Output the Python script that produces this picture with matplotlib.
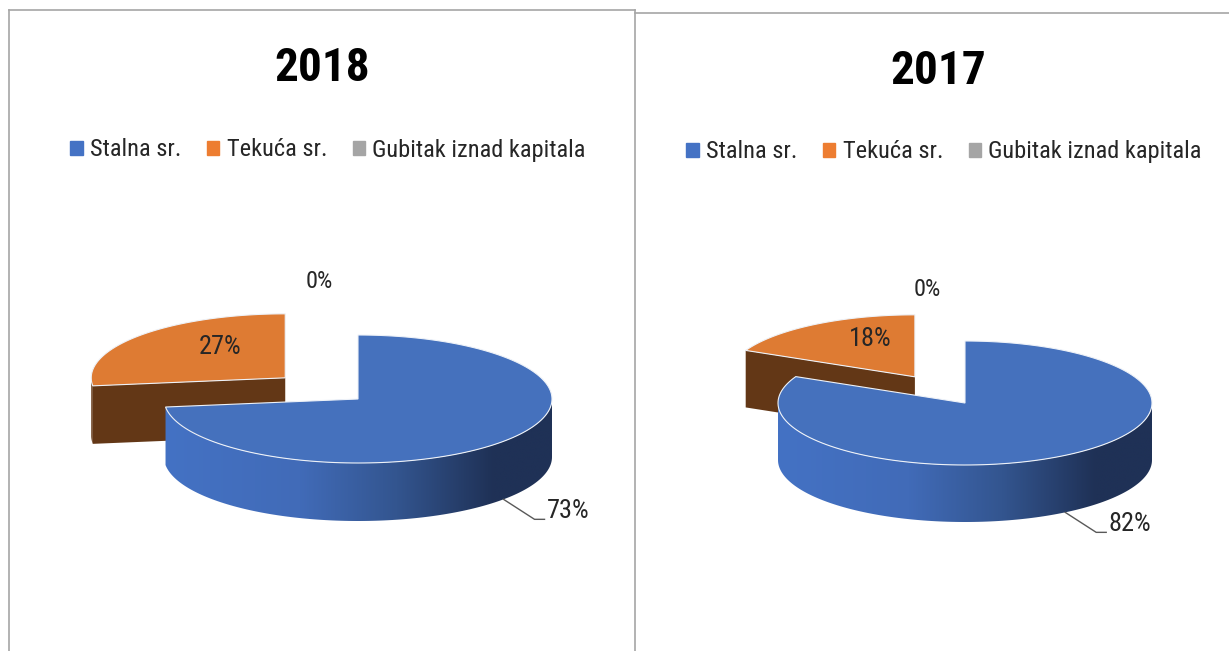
import numpy as np
import matplotlib
matplotlib.use('Agg')
import matplotlib.pyplot as plt
from matplotlib.patches import Polygon, Rectangle
from matplotlib.colors import LinearSegmentedColormap
from matplotlib import font_manager

# data
years = ['2018', '2017']
categories = ['Stalna sr.', 'Tekuća sr.', 'Gubitak iznad kapitala']
values_2018 = [73, 27, 0]
values_2017 = [82, 18, 0]

colors = ['#4472C4', '#ED7D31', '#A5A5A5']
top_colors = ['#4571BD', '#DE7B33', '#A5A5A5']
side_colors = ['#1F3156', '#633716', '#5A5A5A']
explode = [0, 0.5, 0]

# narrow font if there is one, otherwise Liberation Sans a bit smaller
names = {f.name for f in font_manager.fontManager.ttflist}
narrow = [n for n in ['Liberation Sans Narrow', 'Roboto Condensed', 'Open Sans Condensed'] if n in names]
if narrow:
    plt.rcParams['font.family'] = [narrow[0], 'DejaVu Sans']
    fs_title, fs_leg, fs_lab, fs_zero = 34, 17.6, 19, 17.5
else:
    plt.rcParams['font.family'] = ['Liberation Sans', 'DejaVu Sans']
    fs_title, fs_leg, fs_lab, fs_zero = 32, 16, 16.5, 15.5

W, H = 1229, 651
fig = plt.figure(figsize=(W / 100, H / 100), dpi=100)
ax = fig.add_axes([0, 0, 1, 1])
ax.axis('off')

wall_cmaps = [
    LinearSegmentedColormap.from_list('blue_wall', [(0, '#4472C4'), (0.35, '#416BB8'), (0.6, '#33558F'),
                                                    (0.85, '#1F3156'), (1, '#1F3156')]),
    LinearSegmentedColormap.from_list('orange_wall', ['#633716', '#633716']),
    LinearSegmentedColormap.from_list('gray_wall', ['#5A5A5A', '#5A5A5A']),
]
grad = np.linspace(0, 1, 256).reshape(1, -1)


def arc(cx, cy, rx, ry, a1, a2, n=150):
    t = np.radians(np.linspace(a1, a2, n))
    return np.column_stack([cx + rx * np.cos(t), cy - ry * np.sin(t)])


def draw_pie3d(values, cx, cy, rx, ry, depth):
    total = float(sum(values))
    start = 90.0
    slices = []
    for i, v in enumerate(values):
        sweep = 360.0 * v / total
        a1, a2 = start, start - sweep
        start = a2
        mid = np.radians((a1 + a2) / 2)
        ox = cx + explode[i] * rx * np.cos(mid)
        oy = cy - explode[i] * ry * np.sin(mid)
        slices.append((i, v, a1, a2, mid, ox, oy))

    z = 2
    for i, v, a1, a2, mid, ox, oy in sorted(slices, key=lambda s: -np.sin(s[4])):
        if v == 0:
            continue
        # cut faces
        for a, nrm in ((a1, a1 + 90), (a2, a2 - 90)):
            if np.sin(np.radians(nrm)) < -1e-6:
                ex = ox + rx * np.cos(np.radians(a))
                ey = oy - ry * np.sin(np.radians(a))
                ax.add_patch(Polygon([(ox, oy), (ex, ey), (ex, ey + depth), (ox, oy + depth)],
                                     closed=True, fc=side_colors[i], ec='none', zorder=z))
                z += 1
        # outer wall (front half only)
        for k in (-1, 0, 1):
            lo = max(a2, 180 + 360 * k)
            hi = min(a1, 360 + 360 * k)
            if hi > lo:
                top = arc(ox, oy, rx, ry, lo, hi)
                bot = top[::-1] + np.array([0, depth])
                wall = Polygon(np.vstack([top, bot]), closed=True, fc='none', ec='none', zorder=z)
                ax.add_patch(wall)
                im = ax.imshow(grad, cmap=wall_cmaps[i], aspect='auto', interpolation='bilinear',
                               extent=(ox - rx, ox + rx, oy + ry + depth, oy - ry), zorder=z)
                im.set_clip_path(wall)
                z += 1
        # top face
        pts = np.vstack([[ox, oy], arc(ox, oy, rx, ry, a2, a1), [ox, oy]])
        ax.add_patch(Polygon(pts, closed=True, fc=top_colors[i], ec='#EEF2F8', lw=0.8, zorder=z))
        z += 1

    # data labels
    for i, v, a1, a2, mid, ox, oy in slices:
        txt = '{:.0f}%'.format(100 * v / total)
        if v == 0:
            ax.text(ox - 0.2 * rx, oy - 1.83 * ry, txt, ha='center', va='center',
                    fontsize=fs_zero, color='#262626', zorder=50)
        elif v / total >= 0.5:
            sx = ox + rx * np.cos(mid)
            sy = oy - ry * np.sin(mid) + depth
            bx, by = sx + 31, sy + 20
            ax.plot([sx, bx, bx + 10], [sy, by, by], color='#595959', lw=1, zorder=50)
            ax.text(bx + 12, by - 8, txt, ha='left', va='center', fontsize=fs_lab,
                    color='#262626', zorder=50)
        else:
            ax.text(ox + 0.45 * rx * np.cos(mid), oy - 0.72 * ry * np.sin(mid), txt,
                    ha='center', va='center', fontsize=fs_lab, color='#262626', zorder=50)


draw_pie3d(values_2018, 358, 399, 194, 64, 58)
draw_pie3d(values_2017, 965, 403, 187, 62, 57)

# titles
ax.text(322, 68, years[0], ha='center', va='center', fontsize=fs_title, fontweight='bold', color='black')
ax.text(938, 71, years[1], ha='center', va='center', fontsize=fs_title, fontweight='bold', color='black')

# legends
handles = [Rectangle((0, 0), 1, 1, color=c) for c in colors]
for xc, yc in ((328, 150), (944, 152)):
    fig.legend(handles, categories, loc='center', bbox_to_anchor=(xc / W, 1 - yc / H),
               ncol=3, frameon=False, fontsize=fs_leg, handlelength=0.5, handleheight=0.5,
               handletextpad=0.3, columnspacing=1.05, borderpad=0, labelcolor='#262626')

# panel borders
bc = '#A6A6A6'
ax.plot([9, 9], [10, H], color=bc, lw=1.2)
ax.plot([9, 635], [10, 10], color=bc, lw=1.2)
ax.plot([635, 635], [10, H], color=bc, lw=1.2)
ax.plot([635, W], [13, 13], color=bc, lw=1.2)

ax.set_xlim(0, W)
ax.set_ylim(H, 0)
fig.savefig('out.png', dpi=100, facecolor='white')
